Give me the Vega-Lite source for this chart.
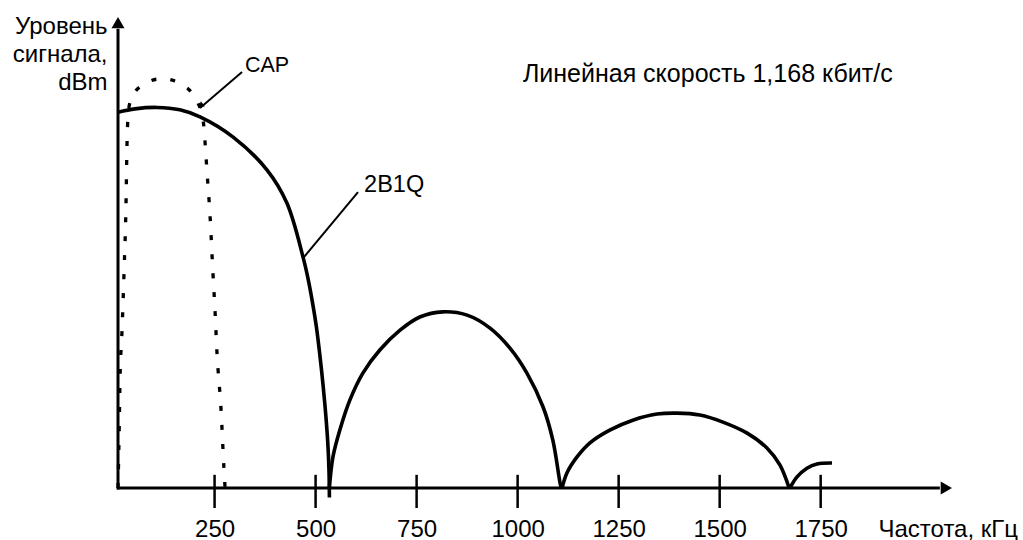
{
  "$schema": "https://vega.github.io/schema/vega-lite/v6.json",
  "width": 834,
  "height": 471,
  "autosize": {"type": "none"},
  "padding": {"left": 118, "top": 17, "right": 71, "bottom": 52},
  "background": "white",
  "config": {
    "view": {"stroke": null},
    "font": "Liberation Sans",
    "text": {"font": "Liberation Sans", "fontSize": 24, "color": "black"}
  },
  "datasets": {
    "b2b1q": [
      {"f": 11, "lvl": 79.8, "lobe": 1}, {"f": 53, "lvl": 80.5, "lobe": 1}, {"f": 107, "lvl": 80.8, "lobe": 1},
      {"f": 164, "lvl": 80.3, "lobe": 1}, {"f": 214, "lvl": 78.8, "lobe": 1}, {"f": 296, "lvl": 74.5, "lobe": 1},
      {"f": 380, "lvl": 67.5, "lobe": 1}, {"f": 429, "lvl": 60.5, "lobe": 1}, {"f": 469.6, "lvl": 48.8, "lobe": 1},
      {"f": 481.9, "lvl": 44.2, "lobe": 1}, {"f": 491.3, "lvl": 39.9, "lobe": 1}, {"f": 502.0, "lvl": 34.2, "lobe": 1},
      {"f": 510.6, "lvl": 28.2, "lobe": 1}, {"f": 519.0, "lvl": 21.4, "lobe": 1}, {"f": 525.2, "lvl": 15.5, "lobe": 1},
      {"f": 530.2, "lvl": 9.6, "lobe": 1}, {"f": 533.1, "lvl": 3.8, "lobe": 1}, {"f": 534.2, "lvl": -2.0, "lobe": 1},
      {"f": 534, "lvl": 0, "lobe": 2}, {"f": 543, "lvl": 6.6, "lobe": 2}, {"f": 560, "lvl": 12.3, "lobe": 2},
      {"f": 585, "lvl": 18.7, "lobe": 2}, {"f": 617, "lvl": 24.4, "lobe": 2}, {"f": 659, "lvl": 29.3, "lobe": 2},
      {"f": 709, "lvl": 33.5, "lobe": 2}, {"f": 758, "lvl": 36.3, "lobe": 2}, {"f": 815, "lvl": 37.4, "lobe": 2},
      {"f": 875, "lvl": 36.7, "lobe": 2}, {"f": 931, "lvl": 34.0, "lobe": 2}, {"f": 981, "lvl": 29.7, "lobe": 2},
      {"f": 1023, "lvl": 24.4, "lobe": 2}, {"f": 1063, "lvl": 17.2, "lobe": 2}, {"f": 1087, "lvl": 10.2, "lobe": 2},
      {"f": 1105, "lvl": 1.1, "lobe": 2}, {"f": 1108, "lvl": 0, "lobe": 2},
      {"f": 1110, "lvl": 0, "lobe": 3}, {"f": 1122, "lvl": 3.2, "lobe": 3}, {"f": 1147, "lvl": 6.6, "lobe": 3},
      {"f": 1179, "lvl": 9.6, "lobe": 3}, {"f": 1228, "lvl": 12.3, "lobe": 3}, {"f": 1285, "lvl": 14.4, "lobe": 3},
      {"f": 1345, "lvl": 15.7, "lobe": 3}, {"f": 1394, "lvl": 15.9, "lobe": 3}, {"f": 1451, "lvl": 15.5, "lobe": 3},
      {"f": 1508, "lvl": 14.0, "lobe": 3}, {"f": 1567, "lvl": 11.7, "lobe": 3}, {"f": 1617, "lvl": 8.5, "lobe": 3},
      {"f": 1649, "lvl": 4.9, "lobe": 3}, {"f": 1672, "lvl": 0, "lobe": 3},
      {"f": 1674, "lvl": 0, "lobe": 4}, {"f": 1691, "lvl": 2.3, "lobe": 4}, {"f": 1716, "lvl": 4.2, "lobe": 4},
      {"f": 1741, "lvl": 5.1, "lobe": 4}, {"f": 1778, "lvl": 5.3, "lobe": 4}
    ],
    "cap": [
      {"f": 11, "lvl": 0}, {"f": 13.5, "lvl": 10.2}, {"f": 16, "lvl": 22.9}, {"f": 21, "lvl": 33.5},
      {"f": 26, "lvl": 45.9}, {"f": 31, "lvl": 61.1}, {"f": 33, "lvl": 71.8}, {"f": 36, "lvl": 79.2},
      {"f": 41, "lvl": 82.0}, {"f": 53, "lvl": 84.1}, {"f": 70, "lvl": 85.4}, {"f": 90, "lvl": 86.4},
      {"f": 110, "lvl": 86.8}, {"f": 132, "lvl": 86.8}, {"f": 152, "lvl": 86.4}, {"f": 174, "lvl": 85.4},
      {"f": 194, "lvl": 83.9}, {"f": 209, "lvl": 81.7}, {"f": 221, "lvl": 78.6}, {"f": 226, "lvl": 73.9},
      {"f": 231, "lvl": 67.5}, {"f": 239, "lvl": 57.5}, {"f": 246, "lvl": 45.6}, {"f": 251, "lvl": 37.8},
      {"f": 256, "lvl": 28.7}, {"f": 266, "lvl": 16.6}, {"f": 273, "lvl": 4.5}, {"f": 276, "lvl": 0}
    ],
    "ticks": [
      {"f": 250, "lvl": -4.25, "lvl2": 2.8}, {"f": 500, "lvl": -4.25, "lvl2": 2.8}, {"f": 750, "lvl": -4.25, "lvl2": 2.8},
      {"f": 1000, "lvl": -4.25, "lvl2": 2.8}, {"f": 1250, "lvl": -4.25, "lvl2": 2.8}, {"f": 1500, "lvl": -4.25, "lvl2": 2.8},
      {"f": 1750, "lvl": -4.25, "lvl2": 2.8}
    ],
    "axislines": [
      {"f": 9, "lvl": 0, "f2": 2045, "lvl2": 0},
      {"f": 11, "lvl": -0.3, "f2": 11, "lvl2": 97.5}
    ],
    "pointers": [
      {"f": 318, "lvl": 88.3, "f2": 214, "lvl2": 80.7},
      {"f": 605, "lvl": 62.8, "f2": 469, "lvl2": 48.8}
    ],
    "arrowup": [{"f": 11, "lvl": 98.8}],
    "arrowright": [{"f": 2061, "lvl": 0}],
    "arrowcap": [{"f": 216, "lvl": 81.2}],
    "labels": [
      {"f": 325, "lvl": 88.3, "label": "CAP"}
    ],
    "labels2": [
      {"f": 620, "lvl": 62.8, "label": "2B1Q"}
    ],
    "note": [
      {"f": 1013, "lvl": 86.2, "label": "Линейная скорость 1,168 кбит/с"}
    ]
  },
  "encoding": {
    "x": {
      "field": "f", "type": "quantitative",
      "scale": {"domain": [11, 2075], "nice": false, "zero": false},
      "axis": {
        "values": [250, 500, 750, 1000, 1250, 1500, 1750], "format": "d",
        "ticks": false, "domain": false, "grid": false,
        "labelFont": "Liberation Sans", "labelFontSize": 24, "labelColor": "black",
        "labelBaseline": "alphabetic", "labelPadding": 48, "labelOverlap": false, "labelFlush": false,
        "title": "Частота, кГц", "titleFont": "Liberation Sans", "titleFontSize": 24, "titleFontWeight": "normal",
        "titleColor": "black", "titleX": 760, "titleY": 48, "titleAlign": "left", "titleBaseline": "alphabetic"
      }
    },
    "y": {
      "field": "lvl", "type": "quantitative",
      "scale": {"domain": [0, 100], "nice": false, "zero": false},
      "axis": {
        "ticks": false, "labels": false, "domain": false, "grid": false,
        "title": ["Уровень", "сигнала,", "dBm"], "titleFont": "Liberation Sans", "titleFontSize": 24,
        "titleFontWeight": "normal", "titleColor": "black", "titleAngle": 0, "titleAlign": "right",
        "titleBaseline": "alphabetic", "titleX": -11, "titleY": 16, "titleLineHeight": 28
      }
    }
  },
  "layer": [
    {
      "data": {"name": "ticks"},
      "mark": {"type": "rule", "color": "black", "strokeWidth": 2.5},
      "encoding": {"y2": {"field": "lvl2"}}
    },
    {
      "data": {"name": "axislines"},
      "mark": {"type": "rule", "color": "black", "strokeWidth": 3},
      "encoding": {"x2": {"field": "f2"}, "y2": {"field": "lvl2"}}
    },
    {
      "data": {"name": "arrowup"},
      "mark": {"type": "point", "shape": "triangle-up", "filled": true, "color": "black", "size": 169, "opacity": 1}
    },
    {
      "data": {"name": "arrowright"},
      "mark": {"type": "point", "shape": "triangle-right", "filled": true, "color": "black", "size": 169, "opacity": 1}
    },
    {
      "data": {"name": "cap"},
      "mark": {"type": "line", "color": "black", "strokeWidth": 3.3, "strokeDash": [5, 14], "interpolate": "monotone"}
    },
    {
      "data": {"name": "b2b1q"},
      "mark": {"type": "line", "color": "black", "strokeWidth": 3.6, "interpolate": "catmull-rom"},
      "encoding": {"detail": {"field": "lobe", "type": "nominal"}}
    },
    {
      "data": {"name": "pointers"},
      "mark": {"type": "rule", "color": "black", "strokeWidth": 2},
      "encoding": {"x2": {"field": "f2"}, "y2": {"field": "lvl2"}}
    },
    {
      "data": {"name": "arrowcap"},
      "mark": {"type": "point", "shape": "triangle-up", "filled": true, "color": "black", "size": 40, "angle": 229, "opacity": 1}
    },
    {
      "data": {"name": "labels"},
      "mark": {"type": "text", "align": "left", "baseline": "alphabetic", "fontSize": 21.5, "color": "black"},
      "encoding": {"text": {"field": "label"}}
    },
    {
      "data": {"name": "labels2"},
      "mark": {"type": "text", "align": "left", "baseline": "alphabetic", "fontSize": 23.5, "color": "black"},
      "encoding": {"text": {"field": "label"}}
    },
    {
      "data": {"name": "note"},
      "mark": {"type": "text", "align": "left", "baseline": "alphabetic", "fontSize": 25, "color": "black"},
      "encoding": {"text": {"field": "label"}}
    }
  ]
}
